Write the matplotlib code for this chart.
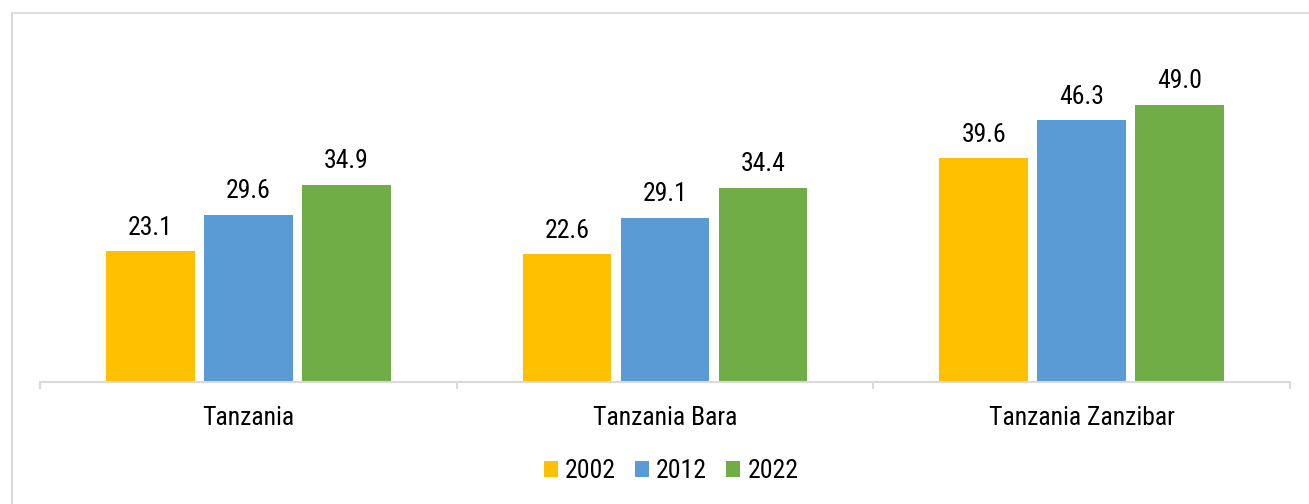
import matplotlib
matplotlib.use("Agg")
import matplotlib.pyplot as plt
from matplotlib import font_manager
from matplotlib.patches import Patch
from matplotlib.lines import Line2D
import numpy as np

categories = ["Tanzania", "Tanzania Bara", "Tanzania Zanzibar"]
years = ["2002", "2012", "2022"]
values_2002 = [23.1, 22.6, 39.6]
values_2012 = [29.6, 29.1, 46.3]
values_2022 = [34.9, 34.4, 49.0]
series = [values_2002, values_2012, values_2022]
colors = ["#FFC000", "#5B9BD5", "#70AD47"]

names = {f.name for f in font_manager.fontManager.ttflist}
fam = "Liberation Sans"
for cand in ["Roboto Condensed", "Archivo Narrow", "Liberation Sans Narrow"]:
    if cand in names:
        fam = cand
        break
plt.rcParams["font.family"] = [fam, "DejaVu Sans"]
FS = 18.5

fig = plt.figure(figsize=(13.09, 5.04), dpi=100)
ax = fig.add_axes([40/1309, 122/504, 1250/1309, 339/504])

x = np.arange(len(categories))
step, width = 0.235, 0.213
for i, (vals, c) in enumerate(zip(series, colors)):
    pos = x + (i - 1) * step
    bars = ax.bar(pos, vals, width=width, color=c, label=years[i])
    for b, v in zip(bars, vals):
        ax.annotate(f"{v:.1f}", (b.get_x() + b.get_width()/2, v),
                    xytext=(0, 12), textcoords="offset points",
                    ha="center", va="baseline", fontsize=FS, color="#000000")

ax.set_xlim(-0.5, 2.5)
ax.set_ylim(0, 60)
for s in ["top", "right", "left"]:
    ax.spines[s].set_visible(False)
ax.spines["bottom"].set_color("#D9D9D9")
ax.spines["bottom"].set_linewidth(1.5)
ax.set_yticks([])
ax.set_xticks(x)
ax.set_xticklabels(categories, fontsize=FS)
ax.tick_params(axis="x", which="major", length=0, pad=17)
ax.set_xticks([-0.5, 0.5, 1.5, 2.5], minor=True)
ax.tick_params(axis="x", which="minor", length=5, width=1.5, color="#D9D9D9", direction="out")

handles = [Patch(facecolor=c, edgecolor="none", label=y) for c, y in zip(colors, years)]
fig.legend(handles=handles, loc="center", bbox_to_anchor=(0.5126, 0.0655), ncol=3,
           frameon=False, fontsize=FS, handlelength=0.55, handleheight=0.55,
           handletextpad=0.27, columnspacing=0.75, borderaxespad=0)

fig.add_artist(Line2D([12/1309, 12/1309], [0, 1 - 12.5/504], transform=fig.transFigure,
                      color="#D9D9D9", linewidth=1.5))
fig.add_artist(Line2D([11.5/1309, 1], [1 - 12.5/504, 1 - 12.5/504], transform=fig.transFigure,
                      color="#D9D9D9", linewidth=1.2))

fig.savefig("out.png", dpi=100)
